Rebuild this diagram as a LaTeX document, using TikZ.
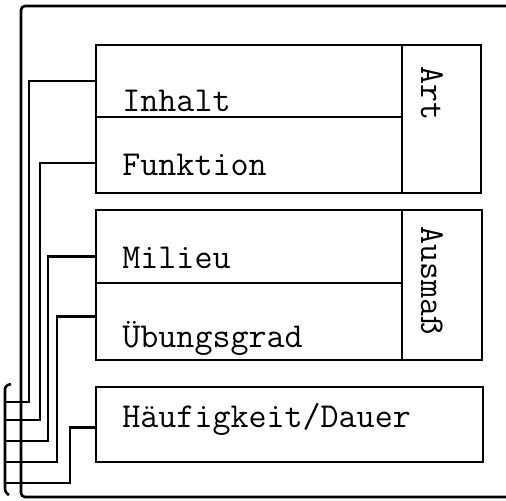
\documentclass[tikz,border=0pt]{standalone}
\usepackage{fontspec}
\usepackage{tikz}
\usetikzlibrary{positioning,calc}

\begin{document}
\begin{tikzpicture}[x=0.5pt,y=-0.5pt,
    cell/.style={draw,line width=1.3pt,inner sep=0pt,outer sep=0pt,minimum width=153pt},
    tag/.style={draw,line width=1.3pt,inner sep=0pt,outer sep=0pt,minimum width=39.5pt},
    word/.style={font=\fontsize{17.5}{21}\selectfont\ttfamily,anchor=base west,inner sep=0pt},
    wire/.style={line width=1.3pt}
]
\useasboundingbox (0,0) rectangle (506,500);
% Art
\node[cell,minimum height=36pt,anchor=north west] (inhalt) at (96,45) {};
\node[cell,minimum height=38pt,below=0pt of inhalt] (funktion) {};
\node[tag,minimum height=74pt,anchor=north west] (art) at (inhalt.north east) {};
% Ausmass
\node[cell,minimum height=36.5pt,anchor=north west] (milieu) at (96,210) {};
\node[cell,minimum height=38.5pt,below=0pt of milieu] (uebung) {};
\node[tag,minimum height=75pt,minimum width=40pt,anchor=north west] (ausmass) at (milieu.north east) {};
% Haeufigkeit
\node[cell,minimum width=193.5pt,minimum height=37.5pt,anchor=north west] (haeuf) at (96,387) {};
% texts
\node[word] (tinhalt) at (122,111) {Inhalt};
\node[word] (tfunktion) at (122,175) {Funktion};
\node[word] (tmilieu) at (122,268) {Milieu};
\node[word] (tuebung) at (122,347) {Übungsgrad};
\node[word] (thaeuf) at (122,427) {Häufigkeit/Dauer};
\node[word,rotate=-90] (tart) at (421,66) {Art};
\node[word,rotate=-90] (tausmass) at (421,226) {Ausmaß};
% frame and bus
\draw[wire,rounded corners=2pt] (506,6) -- (21,6) -- (21,497) -- (506,497);
\draw[wire,rounded corners=1.5pt] (11,384) -- (5,386) -- (5,492) -- (9,495);
\foreach \n/\y/\x/\d in {inhalt/402/29/0,funktion/420/40/8,milieu/441/48/10,uebung/462/57/-5,haeuf/483/70/3}{
  \coordinate (tap) at ($(\n.west)+(0,\d)$);
  \draw[wire] (5,\y) -| (\x,0 |- tap) -- (tap);
}
\end{tikzpicture}
\end{document}
